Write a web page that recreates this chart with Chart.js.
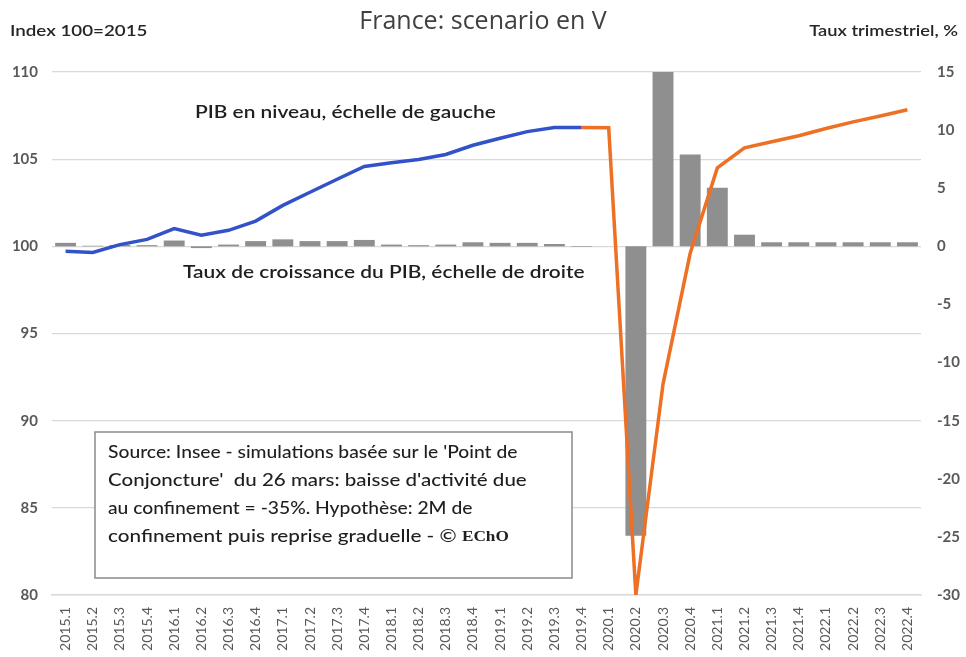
<!DOCTYPE html>
<html>
<head>
<meta charset="utf-8">
<script src="https://cdn.jsdelivr.net/npm/chart.js@4/dist/chart.umd.min.js"></script>
<style>
  html, body { margin: 0; padding: 0; background: #ffffff; }
  #wrap { position: relative; width: 966px; height: 657px; }
</style>
</head>
<body>
<div id="wrap"><canvas id="c" width="966" height="657"></canvas></div>
<script>
// ---- Data ----
const categories = [
  '2015.1','2015.2','2015.3','2015.4',
  '2016.1','2016.2','2016.3','2016.4',
  '2017.1','2017.2','2017.3','2017.4',
  '2018.1','2018.2','2018.3','2018.4',
  '2019.1','2019.2','2019.3','2019.4',
  '2020.1','2020.2','2020.3','2020.4',
  '2021.1','2021.2','2021.3','2021.4',
  '2022.1','2022.2','2022.3','2022.4'
];
// PIB en niveau (index 100 = 2015), observed part
const pibNiveau = [
  99.72, 99.65, 100.1, 100.4,
  101.02, 100.64, 100.92, 101.45,
  102.35, 103.1, 103.85, 104.58,
  104.8, 104.98, 105.27, 105.8,
  106.2, 106.58, 106.82, 106.82,
  null, null, null, null,
  null, null, null, null,
  null, null, null, null
];
// PIB en niveau, scenario en V
const pibScenario = [
  null, null, null, null,
  null, null, null, null,
  null, null, null, null,
  null, null, null, null,
  null, null, null, 106.82,
  106.8, 80.0, 92.1, 99.6,
  104.5, 105.65, 106.0, 106.34,
  106.76, 107.14, 107.48, 107.83
];
// Taux de croissance trimestriel du PIB, %
const croissance = [
  0.3, 0.05, 0.12, 0.1,
  0.5, -0.15, 0.15, 0.45,
  0.6, 0.45, 0.45, 0.55,
  0.15, 0.1, 0.15, 0.35,
  0.3, 0.3, 0.2, -0.05,
  0, -24.9, 15.0, 7.9,
  5.05, 1.0, 0.35, 0.35,
  0.35, 0.35, 0.35, 0.35
];
const leftTicks = { min: 80, max: 110, step: 5 };
const rightTicks = { min: -30, max: 15, step: 5 };

// ---- Texts ----
const chartTitle = 'France: scenario en V';
const leftAxisTitle = 'Index 100=2015';
const rightAxisTitle = 'Taux trimestriel, %';
const labelNiveau = 'PIB en niveau, échelle de gauche';
const labelCroissance = 'Taux de croissance du PIB, échelle de droite';
const noteLines = [
  "Source: Insee - simulations basée sur le 'Point de",
  "Conjoncture'  du 26 mars: baisse d'activité due",
  "au confinement = -35%. Hypothèse: 2M de",
  "confinement puis reprise graduelle - © "
];
const noteSignature = 'EChO';

const FONT = 'Lato, "Open Sans", "Liberation Sans", sans-serif';

function stretchedText(ctx, text, x, y, sx, align) {
  ctx.save();
  ctx.translate(x, y);
  ctx.scale(sx, 1);
  ctx.textAlign = align || 'left';
  ctx.fillText(text, 0, 0);
  const w = ctx.measureText(text).width * sx;
  ctx.restore();
  return w;
}

const annotations = {
  id: 'annotations',
  afterDraw(chart) {
    const ctx = chart.ctx;
    ctx.save();
    ctx.textBaseline = 'middle';
    // axis titles
    ctx.fillStyle = '#262626';
    ctx.font = '600 15px ' + FONT;
    stretchedText(ctx, leftAxisTitle, 10, 31, 1.25, 'left');
    stretchedText(ctx, rightAxisTitle, 958, 31, 1.22, 'right');
    // series labels
    ctx.font = '600 18px ' + FONT;
    ctx.fillStyle = '#1f1f1f';
    stretchedText(ctx, labelNiveau, 195, 112, 1.16, 'left');
    stretchedText(ctx, labelCroissance, 183, 272, 1.16, 'left');
    // note box
    ctx.fillStyle = '#ffffff';
    ctx.fillRect(95, 432, 477, 146);
    ctx.strokeStyle = '#8a8a8a';
    ctx.lineWidth = 1.5;
    ctx.strokeRect(95, 432, 477, 146);
    ctx.fillStyle = '#1f1f1f';
    const ys = [452, 480, 508, 536];
    const sxs = [1.07, 1.14, 1.07, 1.15];
    let lastW = 0;
    ctx.font = '500 18px ' + FONT;
    noteLines.forEach((t, i) => { lastW = stretchedText(ctx, t, 108, ys[i], sxs[i], 'left'); });
    ctx.font = 'bold 15px "Liberation Serif", "DejaVu Serif", serif';
    stretchedText(ctx, noteSignature, 108 + lastW, ys[3] + 1, 1.15, 'left');
    ctx.restore();
  }
};

new Chart(document.getElementById('c'), {
  data: {
    labels: categories,
    datasets: [
      {
        type: 'line',
        label: 'PIB en niveau',
        data: pibNiveau,
        yAxisID: 'y',
        borderColor: '#3152c8',
        borderWidth: 3.5,
        pointRadius: 0,
        tension: 0,
        spanGaps: false,
        order: 1
      },
      {
        type: 'line',
        label: 'Scénario',
        data: pibScenario,
        yAxisID: 'y',
        borderColor: '#ed7024',
        borderWidth: 3.5,
        pointRadius: 0,
        tension: 0,
        spanGaps: false,
        order: 1
      },
      {
        type: 'bar',
        label: 'Taux de croissance',
        data: croissance,
        yAxisID: 'y2',
        backgroundColor: '#8f8f8f',
        borderWidth: 0,
        categoryPercentage: 1,
        barPercentage: 0.77,
        order: 2
      }
    ]
  },
  options: {
    responsive: false,
    animation: false,
    layout: { padding: { top: 0, left: 0, right: 0, bottom: 0 } },
    plugins: {
      legend: { display: false },
      tooltip: { enabled: false },
      title: {
        display: true,
        text: chartTitle,
        color: '#404040',
        font: { family: '"Open Sans", Lato, sans-serif', size: 25, weight: 'normal' },
        padding: { top: 7, bottom: 35 }
      }
    },
    scales: {
      x: {
        grid: { display: false },
        border: { display: true, color: '#d9d9d9', width: 1.5 },
        ticks: {
          autoSkip: false,
          maxRotation: 90,
          minRotation: 90,
          color: '#595959',
          padding: 4,
          font: { family: FONT, size: 14 }
        },
        afterFit(s) { s.height = 62; }
      },
      y: {
        position: 'left',
        min: leftTicks.min,
        max: leftTicks.max,
        ticks: {
          stepSize: leftTicks.step,
          color: '#595959',
          padding: 14,
          font: { family: FONT, size: 15, weight: 'bold' }
        },
        grid: { color: '#d9d9d9', lineWidth: 1.3, drawTicks: false },
        border: { display: false },
        afterFit(s) { s.width = 52; }
      },
      y2: {
        position: 'right',
        min: rightTicks.min,
        max: rightTicks.max,
        ticks: {
          stepSize: rightTicks.step,
          color: '#595959',
          padding: 16,
          crossAlign: 'near',
          font: { family: FONT, size: 15, weight: 'bold' }
        },
        grid: { display: false, drawTicks: false },
        border: { display: false },
        afterFit(s) { s.width = 45; }
      }
    }
  },
  plugins: [annotations]
});
</script>
</body>
</html>
